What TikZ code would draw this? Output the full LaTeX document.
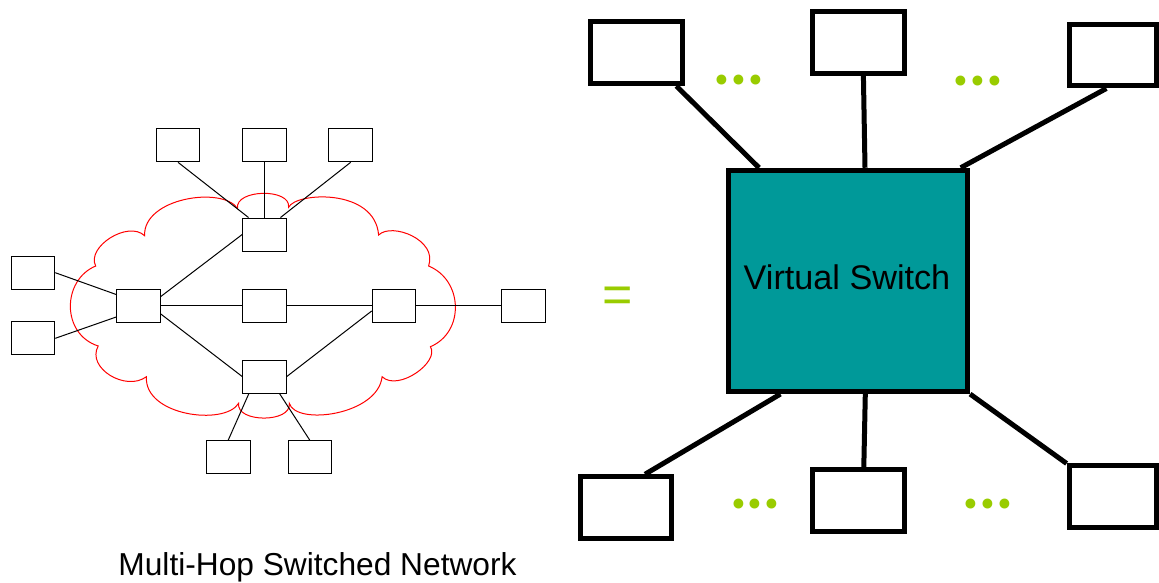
\documentclass[tikz,border=0pt]{standalone}
\usepackage{fontspec}
\setmainfont{Liberation Sans}
\newfontfamily\dotfont{Poppins}
\usetikzlibrary{calc}
\definecolor{teal1}{HTML}{009999}
\definecolor{lime1}{HTML}{99CC00}
\definecolor{cloudred}{HTML}{FF0000}
\begin{document}
\begin{tikzpicture}[x=1pt,y=-1pt,
  sbox/.style={draw=black,line width=1pt,fill=white,rectangle,inner sep=0pt,minimum width=43.6pt,minimum height=33pt},
  bbox/.style={draw=black,line width=5pt,fill=white,rectangle,inner sep=0pt,minimum width=91.6pt,minimum height=61.5pt},
  thinlink/.style={draw=black,line width=1pt},
  thicklink/.style={draw=black,line width=5pt},
  cloudline/.style={draw=cloudred,line width=1pt},
  dotstext/.style={text=lime1,font=\dotfont\fontsize{80}{80}\selectfont,inner sep=0pt,anchor=base west},
]
\useasboundingbox (0,0) rectangle (1159,582);

% cloud
\draw[cloudline] (237.5,208.3)
 .. controls (235,189) and (291,188) .. (288.6,207.3)
 .. controls (296,192) and (375,188) .. (378.6,235)
 .. controls (392,222) and (438,240) .. (428.6,266)
 .. controls (463,280) and (465,332) .. (430.4,346.7)
 .. controls (440,362) and (398,392) .. (382.1,376.7)
 .. controls (378,415) and (296,426) .. (289.3,403.3)
 .. controls (292,423) and (236,423) .. (238.6,403.3)
 .. controls (225,426) and (144,416) .. (146.4,376.7)
 .. controls (126,392) and (86,368) .. (98.2,346)
 .. controls (61,334) and (62,280) .. (95.7,266)
 .. controls (86,247) and (128,220) .. (144.6,235.7)
 .. controls (143,198) and (222,186) .. (237.5,208.3) -- cycle;

% left network nodes
\node[sbox] (T1) at (178,145.3) {};
\node[sbox] (T2) at (264.5,145.3) {};
\node[sbox] (T3) at (350.7,145.3) {};
\node[sbox] (Ht) at (264.5,234.5) {};
\node[sbox] (L1) at (33,272.7) {};
\node[sbox] (L2) at (33,338.3) {};
\node[sbox] (Hl) at (138.5,305.5) {};
\node[sbox] (Mc) at (264.5,305.5) {};
\node[sbox] (Hr) at (394,305.5) {};
\node[sbox] (FR) at (523.4,305.5) {};
\node[sbox] (Hb) at (264.5,376.5) {};
\node[sbox] (B1) at (228.2,457.2) {};
\node[sbox] (B2) at (309.8,457.2) {};

\draw[thinlink] (T1.south) -- ($(Ht.north)+(-16,0)$);
\draw[thinlink] (T2.south) -- (Ht.north);
\draw[thinlink] (T3.south) -- ($(Ht.north)+(16,0)$);
\draw[thinlink] (L1.east) -- ($(Hl.west)+(0,-11)$);
\draw[thinlink] (L2.east) -- ($(Hl.west)+(0,11.5)$);
\draw[thinlink] ($(Hl.east)+(0,-9)$) -- (Ht.west);
\draw[thinlink] (Hl.east) -- (Mc.west);
\draw[thinlink] (Mc.east) -- (Hr.west);
\draw[thinlink] (Hr.east) -- (FR.west);
\draw[thinlink] ($(Hl.east)+(0,8.5)$) -- (Hb.west);
\draw[thinlink] (Hb.east) -- ($(Hr.west)+(0,5.5)$);
\draw[thinlink] ($(Hb.south)+(-15.6,0)$) -- (B1.north);
\draw[thinlink] ($(Hb.south)+(15,0)$) -- (B2.north);

\node[anchor=base,inner sep=0pt,font=\fontsize{31.7}{31.7}\selectfont] (cap) at (317.5,575) {Multi-Hop Switched Network};

% equals sign
\node[anchor=base,inner sep=0pt,text=lime1,font=\fontsize{52}{52}\selectfont] (eq) at (617.2,312) {=};

% right side
\node[bbox] (TL) at (636.3,52.7) {};
\node[bbox,minimum width=92.3pt] (TM) at (858.4,42.3) {};
\node[bbox,minimum width=87.4pt] (TR) at (1112.8,55.2) {};
\node[draw=black,line width=5pt,fill=teal1,rectangle,inner sep=0pt,minimum width=239.2pt,minimum height=221.3pt] (SW) at (848,280.9) {};
\node[anchor=base,inner sep=0pt,font=\fontsize{34.2}{34.2}\selectfont] (swlabel) at (847,289) {Virtual Switch};
\node[bbox] (BL) at (626,507.5) {};
\node[bbox,minimum width=92.3pt] (BM) at (858.4,500.7) {};
\node[bbox,minimum width=87.4pt] (BR) at (1112.8,496.7) {};

\draw[thicklink] ($(TL.south)+(40,0)$) -- ($(SW.north)+(-89,0)$);
\draw[thicklink] ($(TM.south)+(5,0)$) -- ($(SW.north)+(17,0)$);
\draw[thicklink] ($(TR.south)+(-6.4,0)$) -- ($(SW.north east)+(-9.4,0)$);
\draw[thicklink] ($(SW.south)+(-67.6,0)$) -- ($(BL.north)+(19,0)$);
\draw[thicklink] ($(SW.south)+(17.3,0)$) -- ($(BM.north)+(5.4,0)$);
\draw[thicklink] (SW.south east) -- (BR.north west);

\node[dotstext] (d1) at (713.2,84.4) {...};
\node[dotstext] (d2) at (952.2,85.1) {...};
\node[dotstext] (d3) at (729.8,508.4) {...};
\node[dotstext] (d4) at (962.4,508.4) {...};
\end{tikzpicture}
\end{document}
